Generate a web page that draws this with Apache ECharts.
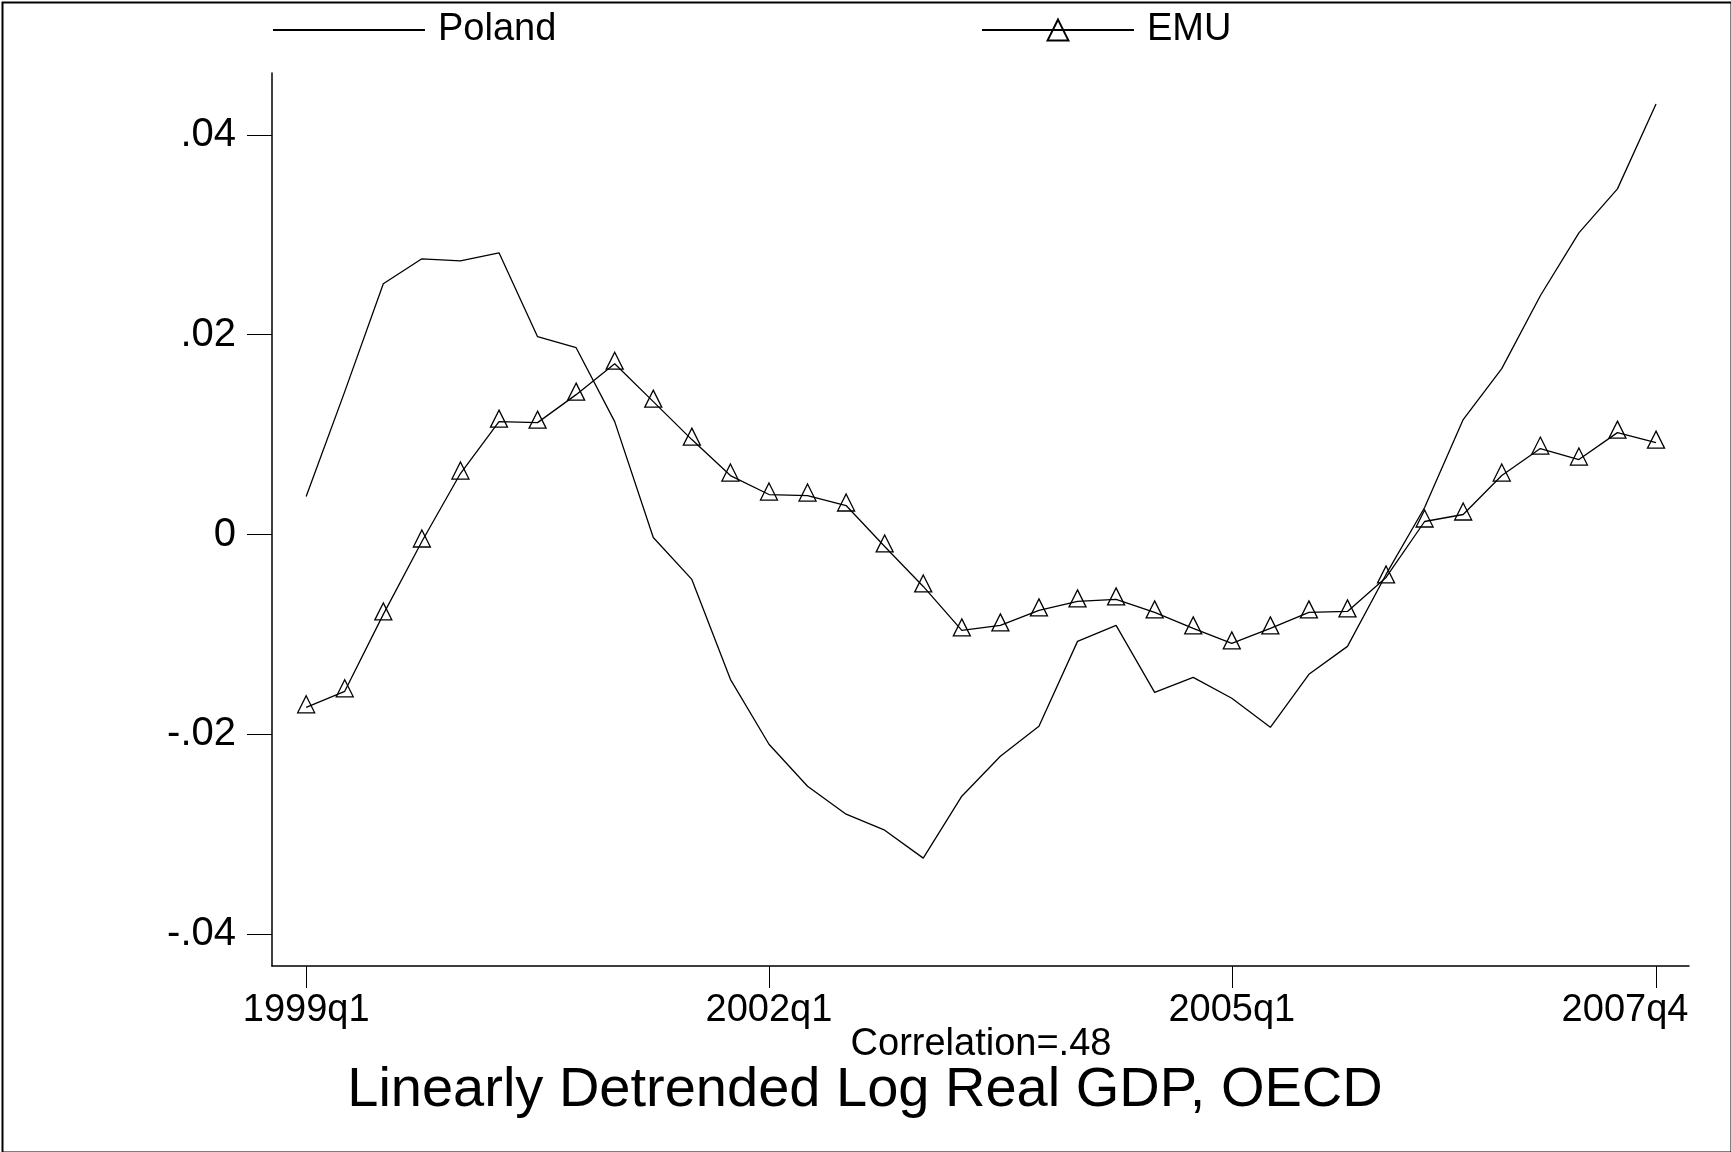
<!DOCTYPE html>
<html>
<head>
<meta charset="utf-8">
<script src="https://cdn.jsdelivr.net/npm/echarts@6/dist/echarts.min.js"></script>
<style>
html,body{margin:0;padding:0;background:#fff;}
#chart{width:1731px;height:1152px;}
</style>
</head>
<body>
<div id="chart"></div>
<script>
var quarters = ['1999q1','1999q2','1999q3','1999q4','2000q1','2000q2','2000q3','2000q4',
  '2001q1','2001q2','2001q3','2001q4','2002q1','2002q2','2002q3','2002q4',
  '2003q1','2003q2','2003q3','2003q4','2004q1','2004q2','2004q3','2004q4',
  '2005q1','2005q2','2005q3','2005q4','2006q1','2006q2','2006q3','2006q4',
  '2007q1','2007q2','2007q3','2007q4'];
var poland = [0.0038,0.0143,0.0251,0.0276,0.0274,0.0282,0.0198,0.0187,
  0.0113,-0.0003,-0.0045,-0.0145,-0.0210,-0.0252,-0.0280,-0.0296,
  -0.0324,-0.0262,-0.0222,-0.0192,-0.0107,-0.0091,-0.0158,-0.0143,
  -0.0164,-0.0193,-0.0140,-0.0112,-0.0040,0.0027,0.0115,0.0166,
  0.0239,0.0302,0.0346,0.0431];
var emu = [-0.0173,-0.0157,-0.0080,-0.0007,0.0061,0.0113,0.0112,0.0140,
  0.0171,0.0133,0.0095,0.0059,0.0040,0.0039,0.0029,-0.0012,
  -0.0052,-0.0096,-0.0091,-0.0076,-0.0067,-0.0065,-0.0078,-0.0094,
  -0.0109,-0.0094,-0.0078,-0.0077,-0.0043,0.0013,0.0020,0.0059,
  0.0086,0.0075,0.0102,0.0092];
var xTickIdx = [0,12,24,35];
var yTicks = [-0.04,-0.02,0,0.02,0.04];
var FONT = "'Liberation Sans', Arial, Helvetica, sans-serif";

function pairs(arr){ return arr.map(function(v,i){ return [i,v]; }); }
function yFmt(v){
  if (Math.abs(v) < 1e-12) return '0';
  var s = Math.abs(v).toFixed(2).replace(/^0/, '');
  return (v < 0 ? '-' : '') + s;
}

var chart = echarts.init(document.getElementById('chart'), null, {renderer:'canvas'});
chart.setOption({
  animation:false,
  backgroundColor:'#fff',
  grid:{left:272, right:42, top:73, bottom:186, containLabel:false},
  xAxis:{
    type:'value', min:-0.886, max:35.855,
    axisLine:{show:true, onZero:false, lineStyle:{color:'#000', width:1.5}},
    axisTick:{show:true, customValues:xTickIdx, length:22, lineStyle:{color:'#000', width:1}},
    axisLabel:{show:true, customValues:xTickIdx, margin:26, fontSize:38, color:'#000', fontFamily:FONT,
      formatter:function(v){
        var i = Math.round(v);
        return i === quarters.length - 1 ? '{last|' + quarters[i] + '}' : quarters[i];
      },
      rich:{last:{fontSize:38, color:'#000', fontFamily:FONT, padding:[0,62,0,0]}}},
    splitLine:{show:false}
  },
  yAxis:{
    type:'value', min:-0.0432, max:0.0462,
    axisLine:{show:true, onZero:false, lineStyle:{color:'#000', width:1.5}},
    axisTick:{show:true, customValues:yTicks, length:25, lineStyle:{color:'#000', width:1}},
    axisLabel:{show:true, customValues:yTicks, margin:36, fontSize:40, color:'#000', fontFamily:FONT,
      formatter:yFmt},
    splitLine:{show:false}
  },
  legend:[
    {data:[{name:'Poland', itemStyle:{opacity:0}}], left:272, top:11, itemWidth:152, itemHeight:26, padding:0,
     textStyle:{fontSize:38, color:'#000', fontFamily:FONT, padding:[0,0,0,8]}},
    {data:['EMU'], left:981, top:11, itemWidth:152, itemHeight:26, padding:0,
     textStyle:{fontSize:38, color:'#000', fontFamily:FONT, padding:[0,0,0,8]}}
  ],
  series:[
    {name:'Poland', type:'line', data:pairs(poland), symbol:'none',
     lineStyle:{color:'#000', width:1.3}, itemStyle:{color:'#000'}},
    {name:'EMU', type:'line', data:pairs(emu), symbol:'triangle', symbolSize:17, symbolOffset:[0,-3],
     lineStyle:{color:'#000', width:1.3},
     itemStyle:{color:'rgba(255,255,255,0)', borderColor:'#000', borderWidth:1.3}}
  ],
  graphic:[
    {type:'rect', left:0, top:0, shape:{x:1, y:1, width:1729, height:1150}, silent:true,
     style:{fill:null, stroke:'#000', lineWidth:2}},
    {type:'text', x:981, y:1045, style:{text:'Correlation=.48', fontSize:38, fill:'#000', fontFamily:FONT,
      textAlign:'center', textVerticalAlign:'middle'}},
    {type:'text', x:865, y:1091, style:{text:'Linearly Detrended Log Real GDP, OECD', fontSize:56, fill:'#000', fontFamily:FONT,
      textAlign:'center', textVerticalAlign:'middle'}}
  ]
});
</script>
</body>
</html>
